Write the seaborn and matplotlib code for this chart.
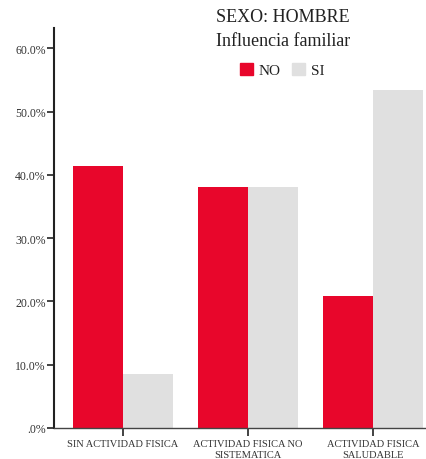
import matplotlib
matplotlib.use("Agg")
import matplotlib.pyplot as plt
import seaborn as sns
import pandas as pd
from matplotlib.ticker import FuncFormatter
from matplotlib.patches import Patch

# Data
categories = ['SIN ACTIVIDAD FISICA', 'ACTIVIDAD FISICA NO\nSISTEMATICA', 'ACTIVIDAD FISICA\nSALUDABLE']
no_values = [41.4, 38.1, 20.9]
si_values = [8.5, 38.1, 53.4]

df = pd.DataFrame({'Categoria': categories, 'NO': no_values, 'SI': si_values})
df_melted = pd.melt(df, id_vars='Categoria', var_name='Influencia', value_name='Pct')

sns.set_style('white')
plt.rcParams['font.family'] = ['Liberation Serif', 'DejaVu Serif']

fig = plt.figure(figsize=(4.26, 4.60), dpi=100)
ax = fig.add_axes([54 / 426, 1 - 429 / 460, 372 / 426, 400 / 460])

sns.barplot(x='Categoria', y='Pct', hue='Influencia', data=df_melted, ax=ax,
            palette={'NO': '#E8062B', 'SI': '#E0E0E0'}, width=0.8,
            saturation=1, linewidth=0, legend=False)

ax.set_xlim(-0.552, 2.424)
ax.set_ylim(0, 63.2)
ax.set_yticks([0, 10, 20, 30, 40, 50, 60])
ax.yaxis.set_major_formatter(FuncFormatter(lambda v, p: '.0%' if v == 0 else f'{v:.1f}%'))

for s in ['top', 'right']:
    ax.spines[s].set_visible(False)
ax.spines['left'].set_color('#222222')
ax.spines['left'].set_linewidth(1.5)
ax.spines['bottom'].set_color('#444444')
ax.spines['bottom'].set_linewidth(1.0)
ax.tick_params(axis='y', length=5, width=1.2, color='#222222', labelsize=8.5, labelcolor='#333333', pad=1, left=True)
ax.tick_params(axis='x', length=6, width=1.2, color='#222222', labelsize=7.5, labelcolor='#333333', pad=2, bottom=True)
ax.set_xlabel('')
ax.set_ylabel('')

# Title and legend
fig.text(283 / 426, 1 - 17 / 460, 'SEXO: HOMBRE', ha='center', va='center', fontsize=13, color='#222222')
fig.text(283 / 426, 1 - 41 / 460, 'Influencia familiar', ha='center', va='center', fontsize=13, color='#222222')
handles = [Patch(color='#E8062B', label='NO'), Patch(color='#E0E0E0', label='SI')]
fig.legend(handles=handles, loc='center', bbox_to_anchor=(282 / 426, 1 - 71 / 460), ncol=2,
           frameon=False, fontsize=11, handlelength=0.85, handleheight=0.85,
           handletextpad=0.4, columnspacing=0.7, labelcolor='#222222')

fig.savefig('out.png', dpi=100)
